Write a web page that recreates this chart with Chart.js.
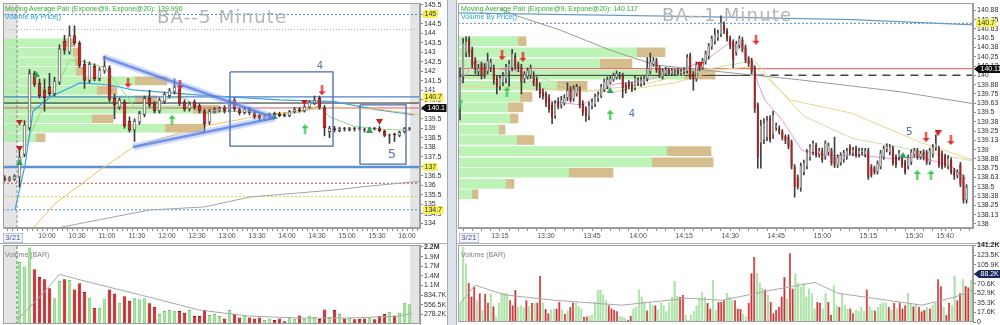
<!DOCTYPE html>
<html>
<head>
<meta charset="utf-8">
<title>BA 5 Minute / 1 Minute</title>
<script src="https://cdn.jsdelivr.net/npm/chart.js@4.4.1/dist/chart.umd.min.js"></script>
<style>
  html, body { margin:0; padding:0; background:#fff; }
  body { width:1000px; height:325px; overflow:hidden; position:relative; font-family:"Liberation Sans", Arial, sans-serif; }
  canvas { position:absolute; }
  .txt { position:absolute; white-space:nowrap; line-height:1; z-index:5; }
  .leg { font-size:7px; }
  .title { font-family:"DejaVu Sans", sans-serif; font-size:18px; line-height:18px; color:#b4b4b4; letter-spacing:1.2px; }
  .vol { font-size:7px; color:#808080; }
  .date { font-size:8px; color:#4d5c98; border:1px solid #b8c0dc; padding:0 1px; line-height:8px; background:#f4f6fc; }
  .sep { position:absolute; }
</style>
</head>
<body>
<div class="sep" style="left:447px;top:0;width:8px;height:325px;background:#dde3ea;border-left:1px solid #a4acb8;border-right:1px solid #a4acb8;"></div>
<div class="sep" style="left:0;top:243px;width:447px;height:1px;background:#b0b0b0;"></div>
<div class="sep" style="left:457px;top:243px;width:543px;height:1px;background:#b0b0b0;"></div>

<canvas id="lProf" style="left:0;top:0;z-index:1" width="447" height="243"></canvas>
<canvas id="lPrice" style="left:0;top:0;z-index:2" width="447" height="243"></canvas>
<canvas id="lVol" style="left:0;top:240px;z-index:2" width="447" height="85"></canvas>
<canvas id="rProf" style="left:457px;top:0;z-index:1" width="543" height="243"></canvas>
<canvas id="rPrice" style="left:457px;top:0;z-index:2" width="543" height="243"></canvas>
<canvas id="rVol" style="left:457px;top:240px;z-index:2" width="543" height="85"></canvas>

<div class="txt leg" style="left:5px;top:5px;color:#33b033;">Moving Average Pair (Expone@9, Expone@20): 139.996</div>
<div class="txt leg" style="left:5px;top:13px;color:#27a3d3;">Volume By Price()</div>
<div class="txt title" style="left:157px;top:8px;">BA--5 Minute</div>
<div class="txt date" style="left:3px;top:233px;">3/21</div>
<div class="txt vol" style="left:5px;top:251px;">Volume (BAR)</div>

<div class="txt leg" style="left:461px;top:5px;color:#33b033;">Moving Average Pair (Expone@9, Expone@20): 140.117</div>
<div class="txt leg" style="left:461px;top:13px;color:#27a3d3;">Volume By Price()</div>
<div class="txt title" style="left:662px;top:6px;">BA--1 Minute</div>
<div class="txt date" style="left:459px;top:233px;">3/21</div>
<div class="txt vol" style="left:461px;top:251px;">Volume (BAR)</div>

<script>
// ======================= DATA: LEFT (5 minute) =======================
const lTimeLabels = ['10:00','10:30','11:00','11:30','12:00','12:30','13:00','13:30','14:00','14:30','15:00','15:30','16:00'];
const lTimeIdx    = [9,15,21,27,33,39,45,51,57,63,69,75,81];
const lPriceTicks = [134,134.5,135,135.5,136,136.5,137,137.5,138,138.5,139,139.5,140,140.5,141,141.5,142,142.5,143,143.5,144,144.5,145,145.5];
const lPriceTickLabels = ['134','134.5','135','135.5','136','136.5','137','137.5','138','138.5','139','139.5','140','140.5','141','141.5','142','142.5','143','143.5','144','144.5','145','145.5'];

const lOpen  = [136.40,136.25,136.30,136.40,137.60,139.00,141.90,141.40,141.00,141.20,
                140.80,141.40,143.60,143.00,143.90,143.50,142.40,141.50,142.30,141.60,
                142.00,142.20,140.60,140.10,140.40,139.40,138.90,139.30,139.70,140.60,
                140.30,139.90,140.40,140.70,140.90,141.10,140.40,140.00,140.40,140.20,
                139.90,139.30,139.85,139.90,140.10,139.90,140.50,140.00,139.80,140.00,
                139.85,139.70,139.45,139.50,139.80,139.75,139.70,139.65,139.85,140.00,
                139.90,140.10,140.30,140.60,140.10,138.80,139.00,138.85,139.00,138.90,
                139.00,139.00,138.95,138.85,139.00,139.00,138.85,138.60,138.70,138.60,
                138.80,138.95];
const lHigh  = [136.50,136.45,136.55,137.80,139.40,142.10,142.00,141.60,141.60,141.90,
                141.70,143.40,143.90,144.40,144.40,143.60,142.60,142.50,142.40,142.20,
                142.80,142.30,140.80,140.60,140.50,139.60,139.50,139.90,140.70,141.00,
                140.40,140.60,140.90,141.10,141.60,141.20,140.50,140.40,140.50,140.30,
                140.00,140.00,140.10,140.15,140.20,140.50,140.60,140.10,140.10,140.10,
                139.90,139.75,139.70,139.80,139.85,139.85,139.80,139.95,140.10,140.10,
                140.20,140.45,140.70,140.70,140.20,139.10,139.10,139.05,139.05,139.05,
                139.05,139.05,139.00,139.05,139.05,139.10,138.90,138.70,138.75,138.85,
                139.05,139.05];
const lLow   = [136.20,136.20,136.25,135.90,137.50,138.90,141.20,140.60,139.90,140.70,
                140.70,141.30,142.90,142.90,143.40,142.20,141.10,141.40,141.50,141.50,
                141.90,140.40,139.50,140.00,139.00,138.80,138.30,139.20,139.60,140.10,
                139.80,139.80,140.30,140.60,140.80,140.20,139.90,139.90,140.00,139.80,
                138.80,139.20,139.80,139.85,139.80,139.85,139.90,139.70,139.75,139.70,
                139.50,139.40,139.40,139.45,139.60,139.60,139.60,139.60,139.80,139.85,
                139.85,140.05,140.25,140.00,138.60,138.50,138.80,138.80,138.85,138.85,
                138.85,138.90,138.80,138.80,138.90,138.80,138.55,138.20,138.30,138.55,
                138.75,138.90];
const lClose = [136.25,136.40,136.50,137.50,139.20,141.90,141.30,140.70,140.60,140.80,
                141.50,143.20,143.10,143.90,143.50,142.30,141.50,142.40,141.60,142.10,
                142.30,140.50,140.20,140.50,139.10,138.90,139.40,139.80,140.60,140.20,
                139.90,140.50,140.80,141.00,141.20,140.30,140.00,140.30,140.10,139.90,
                139.20,139.90,140.00,140.05,139.90,140.40,140.00,139.80,140.00,139.80,
                139.60,139.50,139.60,139.75,139.70,139.65,139.65,139.90,140.00,139.90,
                140.15,140.40,140.50,140.10,139.00,139.00,138.90,139.00,138.95,139.00,
                138.95,138.95,138.90,139.00,138.95,138.85,138.60,138.65,138.65,138.80,
                139.00,139.00];

// volume in thousands of shares, direction G = up bar, R = down bar
const lVol = [20,25,40,1790,1660,2210,1580,1360,1290,1030,
              746,1240,1290,1270,1000,1180,927,755,468,467,
              717,1000,880,611,803,669,746,717,746,602,
              497,287,373,401,382,373,325,401,229,229,
              401,258,287,229,162,401,287,191,248,191,
              162,191,115,162,115,162,76,191,153,248,
              153,248,210,143,421,210,401,287,162,191,
              134,153,162,191,134,229,287,354,248,325,
              611,573];
const lVolDir = ('RGGGGGRRRR'+'GGRGRRRGRG'+'GRRGRRGGGR'+'RGGGGRRGRR'+'RGGGRGRRGR'+'RRGGRRRGGR'+'GGGRRGRGRG'+'RRRGRRRGRG'+'GG').split('');
const lVolMa = [[2.5,115],[7,774],[11,1434],[17,1205],[29,774],[39,401],[49,229],[59,172],[69,172],[79,229],[81.5,315]];
const lVolTickVals = [278.2,556.5,834.7,1113,1391,1669,1948,2226];
const lVolTickLabels = ['278.2K','556.5K','834.7K','1.1M','1.4M','1.7M','1.9M','2.2M'];

const lEma9  = [[3,137.0],[5,138.6],[8,140.3],[11,141.5],[13,142.6],[16,142.5],[20,142.2],[23,141.2],[26,140.1],[29,140.1],[33,140.6],[36,140.6],[40,139.8],[45,139.9],[50,139.85],[55,139.7],[60,139.9],[63,140.2],[65,139.6],[70,139.1],[75,138.95],[81,138.88]];
const lEma20 = [[2.1,134.7],[4.1,137.06],[5.7,139.9],[9.1,140.65],[15.1,141.39],[21.1,141.28],[25.7,141.02],[39.1,140.75],[55,140.5],[66,140.4],[74,140.0],[82,139.7]];
const lMa50  = [[5.7,133.74],[10,135.0],[19.1,136.8],[25.7,138.0],[39.1,139.07],[52,139.7],[65.7,140.12],[75,140.0],[83,139.72]];
const lMa200 = [[10.5,133.74],[29,134.69],[40,134.85],[49,135.37],[65.7,135.74],[73,135.95],[81.7,136.17],[83.1,136.2]];
const lLevels = [145.0,144.2,140.65,140.33,140.07,136.96,136.1,135.4,134.7];
const lTriUpper = [[19.7,142.76],[54.1,139.54]];
const lTriLower = [[25.7,138.01],[54.1,139.54]];
const lBox4 = [45.1,65.7,141.97,138.06];
const lBox5 = [71.1,80.3,140.23,137.11];
const lSession = [2.5, 81.1];

const lProfPrice = [143.5,143.0,142.5,142.0,141.5,141.0,140.5,140.0,139.5,139.0,138.5];
const lProfBuy   = [62,70,72,73,132,94,132,190,89,162,33];
const lProfSell  = [10,6,5,7,32,20,22,25,21,38,9];

const lRedTri    = [[3,139.3],[3,137.9],[60,140.35],[75,139.33]];
const lGreenTri  = [[3,137.22],[6.4,141.85],[54,139.62],[73,138.92]];
const lRedArrow  = [[24.7,141.4],[35.1,141.3],[63.5,141.0]];
const lGreenArrow= [[33.5,139.45],[60.1,138.95]];

// ======================= DATA: RIGHT (1 minute) =======================
const rTimeLabels = ['13:15','13:30','13:45','14:00','14:15','14:30','14:45','15:00','15:15','15:30','15:40'];
const rTimeIdx    = [13,28,43,58,73,88,103,118,133,148,158];
const rPriceTicks = [138,138.125,138.25,138.375,138.5,138.625,138.75,138.875,139,139.125,139.25,139.375,139.5,139.625,139.75,139.875,140,140.125,140.25,140.375,140.5,140.625,140.75,140.875];
const rPriceTickLabels = ['138','138.13','138.25','138.38','138.5','138.63','138.75','138.88','139','139.13','139.25','139.38','139.5','139.63','139.75','139.88','140','140.13','140.25','140.38','140.5','140.63','140.75','140.88'];

const rOpen = [139.60,139.98,140.30,140.49,140.34,140.20,140.05,140.15,140.12,140.05,
               140.10,140.10,139.95,139.85,139.90,139.95,140.05,140.10,140.26,140.15,
               140.12,139.95,139.98,140.00,140.00,139.95,139.85,139.78,139.75,139.70,
               139.60,139.45,139.65,139.60,139.62,139.70,139.82,139.68,139.75,139.82,
               139.62,139.55,139.45,139.58,139.60,139.68,139.72,139.80,139.85,139.90,
               139.94,139.97,140.00,140.00,139.87,139.90,139.88,139.82,139.90,139.88,
               139.90,139.95,140.05,140.15,140.20,140.10,139.98,140.02,140.08,140.02,
               140.03,140.07,140.02,140.04,140.05,140.27,140.02,139.95,140.15,140.10,
               140.18,140.25,140.38,140.45,140.50,140.55,140.68,140.60,140.50,140.45,
               140.30,140.40,140.48,140.38,140.22,140.20,140.10,139.60,139.09,139.13,
               139.16,139.43,139.20,139.29,139.29,139.24,139.18,139.17,139.10,138.77,
               138.63,138.48,138.69,138.77,138.89,138.96,139.06,138.93,138.99,138.90,
               138.96,138.99,138.90,138.79,138.82,138.86,138.90,139.04,138.95,139.02,
               138.93,138.96,138.93,138.99,138.77,138.75,138.70,138.77,138.90,139.00,
               138.96,139.02,138.90,138.89,138.90,138.83,138.77,138.83,138.93,138.99,
               138.90,138.97,138.96,138.83,138.93,139.02,139.02,138.95,138.91,138.77,
               138.86,138.72,138.65,138.80,138.63,138.32];
const rHigh = [140.10,140.50,140.52,140.52,140.38,140.24,140.15,140.18,140.16,140.30,
               140.22,140.14,140.00,140.00,140.04,140.15,140.20,140.35,140.30,140.18,
               140.15,140.05,140.10,140.14,140.05,139.98,139.90,139.82,139.78,139.74,
               139.64,139.66,139.70,139.72,139.74,139.90,139.85,139.86,139.88,139.85,
               139.66,139.58,139.64,139.68,139.75,139.78,139.88,139.95,139.98,139.99,
               140.03,140.06,140.04,140.03,139.90,139.93,139.91,140.00,139.97,139.98,
               139.99,140.24,140.30,140.24,140.23,140.13,140.09,140.11,140.10,140.09,
               140.08,140.09,140.08,140.10,140.28,140.30,140.05,140.18,140.18,140.23,
               140.33,140.43,140.53,140.63,140.61,140.80,140.72,140.63,140.53,140.48,
               140.46,140.53,140.51,140.41,140.25,140.23,140.13,139.63,139.40,139.42,
               139.45,139.46,139.52,139.36,139.32,139.27,139.20,139.20,139.13,138.80,
               138.66,138.82,138.86,139.00,139.07,139.12,139.09,139.02,139.02,139.12,
               139.09,139.02,139.17,138.93,138.96,138.99,139.02,139.07,139.03,139.05,
               139.02,139.02,139.02,139.02,138.80,138.78,138.85,138.99,139.05,139.08,
               139.07,139.05,138.93,138.99,138.93,138.86,138.93,139.00,139.02,139.02,
               138.98,139.00,138.99,139.02,139.07,139.20,139.05,138.98,138.94,138.92,
               138.89,138.75,138.73,138.83,138.66,138.53];
const rLow  = [139.40,139.90,140.25,140.25,140.10,140.02,140.00,139.95,139.96,140.02,
               140.05,139.88,139.75,139.80,139.86,139.90,139.85,140.06,140.08,140.05,
               139.75,139.90,139.95,139.96,139.86,139.80,139.70,139.68,139.58,139.50,
               139.35,139.42,139.55,139.56,139.60,139.66,139.64,139.65,139.72,139.56,
               139.46,139.38,139.40,139.55,139.58,139.65,139.70,139.78,139.82,139.88,
               139.92,139.95,139.95,139.70,139.76,139.82,139.78,139.80,139.86,139.85,
               139.87,139.92,140.02,140.12,140.04,139.97,139.95,140.00,140.01,140.00,
               140.01,140.01,140.00,140.02,140.03,139.95,139.80,139.92,140.06,140.08,
               140.15,140.22,140.35,140.42,140.47,140.52,140.56,140.46,140.36,140.10,
               140.27,140.37,140.32,140.17,140.12,140.02,139.50,138.75,138.75,139.08,
               139.12,139.10,139.15,139.26,139.21,139.13,139.08,139.01,138.74,138.36,
               138.47,138.44,138.66,138.74,138.86,138.93,138.90,138.90,138.83,138.87,
               138.93,138.79,138.76,138.76,138.79,138.83,138.87,138.93,138.92,138.90,
               138.90,138.93,138.90,138.60,138.63,138.67,138.67,138.74,138.87,138.97,
               138.93,138.79,138.76,138.86,138.76,138.67,138.74,138.80,138.90,138.87,
               138.87,138.86,138.80,138.80,138.90,138.99,138.76,138.74,138.76,138.74,
               138.67,138.60,138.62,138.50,138.28,138.28];
const rClose= [139.98,140.44,140.46,140.30,140.14,140.08,140.10,140.00,140.00,140.20,
               140.18,139.93,139.85,139.97,140.00,140.12,140.16,140.30,140.12,140.10,
               139.90,140.02,140.07,140.10,139.90,139.85,139.75,139.72,139.62,139.55,
               139.43,139.63,139.58,139.68,139.70,139.80,139.67,139.82,139.85,139.60,
               139.50,139.45,139.60,139.65,139.72,139.75,139.85,139.92,139.95,139.96,
               140.00,140.03,139.98,139.83,139.80,139.85,139.82,139.97,139.94,139.95,
               139.96,140.10,140.18,140.20,140.07,140.00,140.06,140.08,140.03,140.07,
               140.06,140.03,140.06,140.08,140.25,139.97,139.95,140.15,140.10,140.20,
               140.30,140.40,140.50,140.55,140.58,140.72,140.60,140.50,140.40,140.20,
               140.43,140.50,140.35,140.20,140.15,140.05,139.55,138.90,139.33,139.36,
               139.40,139.13,139.47,139.33,139.24,139.16,139.12,139.04,138.77,138.50,
               138.50,138.79,138.83,138.97,139.04,139.09,138.93,138.99,138.86,139.09,
               139.06,138.82,138.79,138.90,138.93,138.96,138.99,138.96,139.00,138.93,
               138.99,138.99,138.99,138.63,138.66,138.70,138.82,138.96,139.02,139.05,
               139.04,138.82,138.79,138.96,138.79,138.70,138.90,138.97,138.99,138.90,
               138.95,138.89,138.83,138.99,139.04,139.09,138.79,138.77,138.79,138.89,
               138.70,138.66,138.70,138.53,138.32,138.50];

const rVol = [37,139,108,72,47,65,40,53,22,52, 36,52,29,10,35,54,54,53,40,31,
              59,28,31,27,40,29,35,36,36,85, 36,24,16,22,25,25,37,22,15,21,
              28,36,35,29,25,9,10,11,13,37, 59,60,50,40,31,25,22,20,11,10,
              7,4,11,25,28,60,47,37,21,37, 31,31,22,35,31,20,36,46,76,48,
              46,50,13,4,13,20,31,43,55,46, 35,25,77,22,37,37,40,54,46,40,
              40,25,24,15,10,35,90,120,90,72, 63,60,50,37,16,22,28,47,83,43,
              127,62,90,72,65,72,47,62,53,25, 37,35,25,53,37,13,68,31,28,54,
              31,25,25,16,22,20,28,20,60,29, 22,21,28,34,36,36,28,22,35,25,
              36,25,31,54,35,29,34,28,20,22, 28,25,31,35,79,66,28,13,35,31,
              86,40,53,79,67,64,77];
const rVolDir = ('GGGRRRGRGR'+'RGRGGGGGRR'+'RGGGRGRGRR'+'GRRGGRRGRG'+'RRGGGRRGGG'+'GGGGRRRRGG'+'GRRGGGGGRG'+'GRGGGGGGGG'+'RRGGGGGGGG'+'RRGGRRRGGG'+'RRRGGRRRGG'+'GRGRRRRRRG'+'RRGGGGGGGG'+'RRGGRRGGRG'+'GGRRGGGGRG'+'GRGGGGRGRG'+'RRRGGRGRRR'+'GRGGRRGRRG'+'GRRGRRG').split('');
const rVolMa = [[0,35],[5.3,68],[16.2,50],[34.4,40],[58.8,31],[82.9,44],[95.3,40],[113.5,59],[129.1,73],[137.5,53],[155.7,40],[168.1,31],[180.1,46],[186.7,59]];
const rVolTickVals = [0,17.6,35.3,52.9,70.6,88.2,105.9,123.5,141.2];
const rVolTickLabels = ['0','17.6K','35.3K','52.9K','70.6K','88.2K','105.9K','123.5K','141.2K'];

const rMaGrey = [[13,140.9],[17.9,140.81],[32.6,140.61],[48.9,140.34],[63.5,140.14],[84.7,140.05],[110.7,139.94],[143.3,139.78],[167.1,139.62]];
const rMaBlue = [[-0.65,140.84],[78,140.79],[128,140.75],[167.1,140.68]];
const rEma9   = [[0,139.9],[5,140.2],[10,140.1],[20,140.05],[30,139.65],[40,139.6],[50,139.88],[60,139.93],[70,140.05],[80,140.2],[88,140.45],[95,140.22],[97,139.9],[99.3,139.67],[104.9,139.4],[111.4,138.99],[120,138.92],[130,138.93],[140,138.88],[150,138.9],[160,138.78],[165,138.6]];
const rEma20  = [[0,139.95],[20,140.05],[40,139.78],[60,139.88],[80,140.08],[96,140.2],[102,139.9],[112,139.45],[128,139.15],[150,138.98],[167,138.85]];
const rMa50   = [[0,139.85],[30,139.82],[50,139.78],[70,139.9],[85,140.08],[96,140.12],[107.5,139.67],[127.7,139.49],[150.5,139.09],[167.1,138.86]];
const rLevels = [140.7, 140.09, 140.0];

const rProfPrice = [140.46,140.31,140.16,140.01,139.86,139.71,139.57,139.42,139.27,139.13,138.98,138.83,138.69,138.54,138.40];
const rProfBuy   = [60,179,142,227,99,62,50,52,41,59,209,194,111,48,14];
const rProfSell  = [8,28,32,30,30,12,15,8,6,17,44,61,44,8,6];

const rRedArrow  = [[13.7,140.27],[20.5,140.25],[96.4,140.48],[151.8,139.17],[159.9,139.13]];
const rGreenArrow= [[0,139.62],[15.3,139.78],[48.9,139.47],[148.9,138.66],[153.4,138.66]];
const rRedTri    = [[78.2,140.14],[155.7,139.22]];
const rGreenTri  = [[48.9,139.8],[144.3,138.93]];

// ======================= RENDERING =======================
const FONT = '"Liberation Sans", Arial, sans-serif';
Chart.defaults.font.family = FONT;
Chart.defaults.font.size = 7;
Chart.defaults.color = '#333';
Chart.defaults.animation = false;
Chart.defaults.events = [];
Chart.defaults.plugins.legend.display = false;
Chart.defaults.plugins.tooltip.enabled = false;

const L = { xMin:-0.3, xMax:83.1, yMin:133.74, yMax:145.605, padL:3, profMax:417 };
const R = { xMin:-0.65, xMax:167.1, yMin:137.946, yMax:140.974, padL:1, profMax:515 };

function framePlugin(color){
  return { id:'frame', afterDatasetsDraw(c){
    const a=c.chartArea, x=c.ctx; x.save(); x.strokeStyle=color; x.lineWidth=1;
    x.strokeRect(Math.round(a.left)+0.5, Math.round(a.top)+0.5, Math.round(a.right-a.left)-1, Math.round(a.bottom-a.top)-1);
    x.restore(); } };
}
function shadePlugin(axis, ranges, color){
  return { id:'shade', beforeDatasetsDraw(c){
    const s=c.scales[axis], a=c.chartArea, x=c.ctx; x.save(); x.fillStyle=color;
    for (const [lo,hi] of ranges){ const p0=Math.max(a.left,s.getPixelForValue(lo)), p1=Math.min(a.right,s.getPixelForValue(hi)); x.fillRect(p0,a.top,p1-p0,a.bottom-a.top); }
    x.restore(); } };
}
function tagPlugin(items){
  return { id:'tags', afterDraw(c){
    const s=c.scales.y, x=c.ctx; x.save(); x.font='7px '+FONT; x.textBaseline='middle';
    for (const t of items){
      const y=Math.round(s.getPixelForValue(t.v)); const w=x.measureText(t.text).width+3; const x0=s.left+(t.arrow?6:3);
      x.fillStyle=t.bg; x.fillRect(x0,y-4,w,8);
      if (t.arrow){ x.beginPath(); x.moveTo(s.left+1,y); x.lineTo(x0,y-4); x.lineTo(x0,y+4); x.closePath(); x.fill(); }
      x.fillStyle=t.fg; x.fillText(t.text,x0+1.5,y+0.5);
    }
    x.restore(); } };
}
function notePlugin(items){
  return { id:'notes', afterDatasetsDraw(c){
    const xs=c.scales.x, ys=c.scales.y, x=c.ctx; x.save(); x.textAlign='center'; x.textBaseline='middle';
    for (const n of items){ x.font=n.size+'px "DejaVu Sans", sans-serif'; x.fillStyle=n.color; x.fillText(n.text, xs.getPixelForValue(n.x), ys.getPixelForValue(n.y)); }
    x.restore(); } };
}

function mkArrow(color, up){
  const c=document.createElement('canvas'); c.width=7; c.height=10; const g=c.getContext('2d'); g.fillStyle=color; g.beginPath();
  if (up){ g.moveTo(3.5,0); g.lineTo(7,4); g.lineTo(4.5,4); g.lineTo(4.5,10); g.lineTo(2.5,10); g.lineTo(2.5,4); g.lineTo(0,4); }
  else { g.moveTo(3.5,10); g.lineTo(7,6); g.lineTo(4.5,6); g.lineTo(4.5,0); g.lineTo(2.5,0); g.lineTo(2.5,6); g.lineTo(0,6); }
  g.closePath(); g.fill(); return c;
}
function mkTri(color, up){
  const c=document.createElement('canvas'); c.width=7; c.height=6; const g=c.getContext('2d'); g.fillStyle=color; g.beginPath();
  if (up){ g.moveTo(3.5,0); g.lineTo(7,6); g.lineTo(0,6); } else { g.moveTo(0,0); g.lineTo(7,0); g.lineTo(3.5,6); }
  g.closePath(); g.fill(); return c;
}
const IMG = { redArrow: mkArrow('#e02828', false), greenArrow: mkArrow('#38c848', true), redTri: mkTri('#c82020', false), greenTri: mkTri('#2aa060', true) };

const pts = a => a.map(p => ({x:p[0], y:p[1]}));
function lineDS(points, color, width, dash, order){
  return { type:'line', data:pts(points), borderColor:color, borderWidth:width, borderDash:dash||[], pointRadius:0, fill:false, tension:0, order: (order===undefined?5:order) };
}
function levelDS(v, x0, x1, color, width, dash){ return lineDS([[x0,v],[x1,v]], color, width, dash, 6); }
function boxDS(b, color){ const [a,bb,top,bot]=b; return lineDS([[a,top],[bb,top],[bb,bot],[a,bot],[a,top]], color, 1.3, [], 0); }
function markDS(points, img){ return { type:'line', showLine:false, data:pts(points), pointStyle:img, pointRadius:3, order:0 }; }
function candleDS(open, high, low, close, bodyPct, st){
  const up = open.map((o,i)=>close[i]>=o);
  return [
    { type:'bar', data: open.map((o,i)=>({x:i, y:[low[i],high[i]]})), backgroundColor:st.wick, barThickness:1, grouped:false, order:3 },
    { type:'bar', data: open.map((o,i)=>({x:i, y:[o,close[i]]})), backgroundColor: up.map(u=>u?st.upFill:st.dnFill), borderColor: up.map(u=>u?st.upLine:st.dnLine),
      borderWidth:st.bw, borderSkipped:false, grouped:false, barPercentage:bodyPct, categoryPercentage:1, minBarLength:1, order:2 }
  ];
}
function zeroPad(s){ s.paddingTop=0; s.paddingBottom=0; s.paddingLeft=0; s.paddingRight=0; }

function priceChart(id, P, datasets, xTicks, xLabelFor, yTicks, yLabels, plugins){
  return new Chart(document.getElementById(id), {
    type:'bar', data:{ datasets },
    options:{ responsive:false, maintainAspectRatio:false,
      layout:{ autoPadding:false, padding:{ left:P.padL, right:0, top:3, bottom:0 } },
      scales:{
        x:{ type:'linear', bounds:'data', min:P.xMin, max:P.xMax, offset:false,
            grid:{ display:true, drawOnChartArea:false, drawTicks:true, tickLength:3, color:'#8a8a8a', offset:false },
            border:{ display:true, color:'#9a9a9a' },
            ticks:{ autoSkip:false, maxRotation:0, minRotation:0, padding:1, color:'#505050', font:{size:7}, callback:(v)=>xLabelFor(v) },
            afterBuildTicks:s=>{ s.ticks = xTicks.map(v=>({value:v})); },
            afterFit:s=>{ s.height=15; zeroPad(s); } },
        y:{ type:'linear', bounds:'data', position:'right', min:P.yMin, max:P.yMax,
            grid:{ drawOnChartArea:false, tickLength:3, color:'#8a8a8a' },
            border:{ display:true, color:'#9a9a9a' },
            ticks:{ autoSkip:false, padding:1, color:'#303030', font:{size:7}, callback:(v,i)=>yLabels[i] },
            afterBuildTicks:s=>{ s.ticks = yTicks.map(v=>({value:v})); },
            afterFit:s=>{ s.width=27; zeroPad(s); } }
      } },
    plugins
  });
}
function profChart(id, P, prices, buy, sell, thick, plugins){
  return new Chart(document.getElementById(id), {
    type:'bar',
    data:{ datasets:[
      { data: prices.map((p,i)=>({y:p, x:[0,buy[i]]})), backgroundColor:'rgba(170,240,162,0.78)', barThickness:thick, grouped:false },
      { data: prices.map((p,i)=>({y:p, x:[buy[i],buy[i]+sell[i]]})), backgroundColor:'#d5bd8e', barThickness:thick, grouped:false }
    ] },
    options:{ indexAxis:'y', responsive:false, maintainAspectRatio:false,
      layout:{ autoPadding:false, padding:{ left:P.padL, right:27, top:3, bottom:15 } },
      scales:{
        x:{ type:'linear', min:0, max:P.profMax, display:false },
        y:{ type:'linear', min:P.yMin, max:P.yMax, display:false, offset:false },
        xi:{ type:'linear', axis:'x', min:P.xMin, max:P.xMax, display:false }
      } },
    plugins
  });
}
function volChart(id, P, vol, dir, ma, xMin, xMax, yMax, tickVals, tickLabels, padB, barPct, bw, extra, plugins){
  const isUp = dir.map(d=>d==='G');
  const ds = [
    { type:'bar', data: vol.map((v,i)=>({x:i, y:v})), backgroundColor: isUp.map(u=>u?'#a7e5a1':'#d92b2b'), borderColor: isUp.map(u=>u?'#6cc266':'#8e1515'),
      borderWidth:bw, barPercentage:barPct, categoryPercentage:1, order:2 },
    lineDS(ma, '#a9a9a9', 1, [], 1)
  ].concat(extra);
  return new Chart(document.getElementById(id), {
    type:'bar', data:{ datasets: ds },
    options:{ responsive:false, maintainAspectRatio:false,
      layout:{ autoPadding:false, padding:{ left:P.padL, right:0, top:5, bottom:padB } },
      scales:{
        x:{ type:'linear', min:xMin, max:xMax, offset:false, display:false, grid:{offset:false} },
        y:{ type:'linear', bounds:'data', position:'right', min:0, max:yMax,
            grid:{ drawOnChartArea:false, tickLength:3, color:'#8a8a8a' }, border:{ display:true, color:'#9a9a9a' },
            ticks:{ autoSkip:false, padding:1, color:'#303030', font:(ctx)=>({ size:7, weight: ctx.index===tickVals.length-1 ? 'bold':'normal' }), callback:(v,i)=>tickLabels[i] },
            afterBuildTicks:s=>{ s.ticks = tickVals.map(v=>({value:v})); },
            afterFit:s=>{ s.width=27; zeroPad(s); } }
      } },
    plugins
  });
}

// ---------- LEFT ----------
(function(){
  const minorL = []; for (let k=1; k<=83; k++) minorL.push(k-0.5);
  const labelMapL = new Map(lTimeIdx.map((ix,j)=>[ix-0.5, lTimeLabels[j]]));
  const st = { wick:'#3c3c3c', upFill:'#f6f6f6', upLine:'#555555', dnFill:'#cc2020', dnLine:'#6e1212', bw:1 };
  const ds = [].concat(
    candleDS(lOpen, lHigh, lLow, lClose, 0.72, st),
    [
      levelDS(lLevels[0], L.xMin, L.xMax, '#4f8fd6', 1, [2,2]),
      levelDS(lLevels[1], L.xMin, L.xMax, '#9fb4c0', 1, [1,2]),
      levelDS(lLevels[2], L.xMin, L.xMax, '#4f86c6', 1.2),
      levelDS(lLevels[3], L.xMin, L.xMax, '#222222', 1),
      levelDS(lLevels[4], L.xMin, L.xMax, '#e05a5a', 1),
      levelDS(lLevels[5], L.xMin, L.xMax, '#5b8fd8', 2.5),
      levelDS(lLevels[6], L.xMin, L.xMax, '#d04848', 1, [2,2]),
      levelDS(lLevels[7], L.xMin, L.xMax, '#d8d040', 1, [2,2]),
      levelDS(lLevels[8], L.xMin, L.xMax, '#4f8fd6', 1, [2,2]),
      lineDS([[lSession[0],L.yMin],[lSession[0],L.yMax]], '#8a8a8a', 1, [3,2], 6),
      lineDS(lMa200, '#a3a3a3', 1),
      lineDS(lMa50,  '#e8c36a', 1),
      lineDS(lEma20, '#3ca4e2', 1.2),
      lineDS(lEma9,  '#8fd88a', 1),
      lineDS(lTriUpper, 'rgba(150,178,246,0.45)', 7, [], 1),
      lineDS(lTriLower, 'rgba(150,178,246,0.45)', 7, [], 1),
      lineDS(lTriUpper, 'rgba(78,116,222,0.7)', 2.5, [], 0),
      lineDS(lTriLower, 'rgba(78,116,222,0.7)', 2.5, [], 0),
      boxDS(lBox4, '#4a6aa8'),
      boxDS(lBox5, '#4a6aa8'),
      markDS(lRedTri, IMG.redTri), markDS(lGreenTri, IMG.greenTri),
      markDS(lRedArrow, IMG.redArrow), markDS(lGreenArrow, IMG.greenArrow)
    ]);
  profChart('lProf', L, lProfPrice, lProfBuy, lProfSell, 8, [shadePlugin('xi', [[L.xMin,lSession[0]],[lSession[1],L.xMax]], '#e4e4e4')]);
  priceChart('lPrice', L, ds, minorL, v=>labelMapL.get(v)||'', lPriceTicks, lPriceTickLabels, [
    framePlugin('#a0a0a0'),
    notePlugin([{x:63.1,y:142.28,text:'4',size:10,color:'#5877b0'},{x:77.5,y:137.59,text:'5',size:13,color:'#5877b0'}]),
    tagPlugin([{v:145,text:'145',bg:'#f5f05a',fg:'#333'},{v:140.65,text:'140.7',bg:'#f5f05a',fg:'#333'},{v:136.96,text:'137',bg:'#f5f05a',fg:'#333'},
               {v:134.7,text:'134.7',bg:'#f5f05a',fg:'#333'},{v:140.07,text:'140.1',bg:'#111',fg:'#fff',arrow:true}])
  ]);
  volChart('lVol', L, lVol, lVolDir, lVolMa, L.xMin, L.xMax, 2283, lVolTickVals, lVolTickLabels, 1, 0.72, 1,
    [lineDS([[lSession[0],0],[lSession[0],2283]], '#3a9a3a', 1, [3,2], 6)],
    [shadePlugin('x', [[L.xMin,lSession[0]],[lSession[1],L.xMax]], '#e4e4e4'), framePlugin('#a0a0a0')]);
})();

// ---------- RIGHT ----------
(function(){
  const ticksR = [];
  for (let v=1; v<=166; v+=3) ticksR.push(v);
  rTimeIdx.forEach(v=>{ if (!ticksR.includes(v)) ticksR.push(v); });
  ticksR.sort((a,b)=>a-b);
  const labelMapR = new Map(rTimeIdx.map((ix,j)=>[ix, rTimeLabels[j]]));
  const st = { wick:'#404040', upFill:'#d8d8d8', upLine:'#555555', dnFill:'#c41c1c', dnLine:'#701010', bw:0.6 };
  const ds = [].concat(
    candleDS(rOpen, rHigh, rLow, rClose, 0.72, st),
    [
      levelDS(rLevels[0], R.xMin, R.xMax, '#4f8fd6', 1, [2,2]),
      levelDS(rLevels[1], R.xMin, R.xMax, '#e05a5a', 1),
      levelDS(rLevels[2], R.xMin, 92, '#333333', 1),
      levelDS(rLevels[2], 92, R.xMax, '#444444', 1.5, [8,6]),
      lineDS(rMaBlue, '#6a9cc0', 1.2),
      lineDS(rMaGrey, '#9a9a9a', 1),
      lineDS(rMa50,  '#ead58a', 1),
      lineDS(rEma20, '#cfe0a0', 1),
      lineDS(rEma9,  '#e79ad0', 1),
      markDS(rRedTri, IMG.redTri), markDS(rGreenTri, IMG.greenTri),
      markDS(rRedArrow, IMG.redArrow), markDS(rGreenArrow, IMG.greenArrow)
    ]);
  profChart('rProf', R, rProfPrice, rProfBuy, rProfSell, 9, []);
  priceChart('rPrice', R, ds, ticksR, v=>labelMapR.get(v)||'', rPriceTicks, rPriceTickLabels, [
    framePlugin('#a0a0a0'),
    notePlugin([{x:56,y:139.47,text:'4',size:10,color:'#5877b0'},{x:146.3,y:139.24,text:'5',size:11,color:'#5877b0'}]),
    tagPlugin([{v:140.7,text:'140.7',bg:'#f5f05a',fg:'#333'},{v:140.09,text:'140.11',bg:'#111',fg:'#fff',arrow:true}])
  ]);
  volChart('rVol', R, rVol, rVolDir, rVolMa, -0.91, 186.7, 142.1, rVolTickVals, rVolTickLabels, 3, 0.8, 0.5, [],
    [framePlugin('#a0a0a0'), tagPlugin([{v:88.2,text:'88.2K',bg:'#1a2a5a',fg:'#fff',arrow:true}])]);
})();
</script>
</body>
</html>
